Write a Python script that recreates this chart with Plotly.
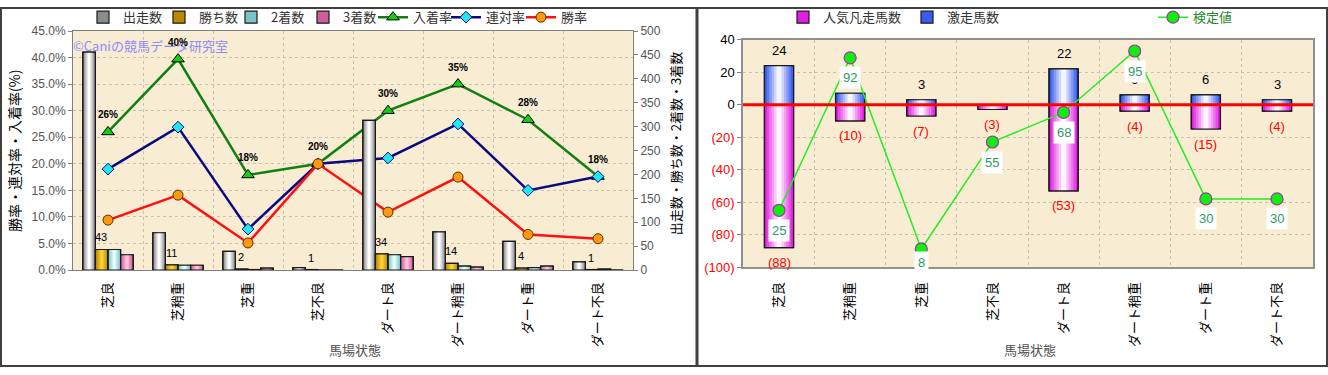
import plotly.graph_objects as go

# ---------------- data ----------------
categories = ["芝良", "芝稍重", "芝重", "芝不良", "ダート良", "ダート稍重", "ダート重", "ダート不良"]

runs = [456, 78, 39, 5, 313, 80, 60, 17]          # 出走数
wins = [43, 11, 2, 1, 34, 14, 4, 1]               # 勝ち数
seconds = [43, 10, 1, 0, 32, 8, 5, 2]             # 2着数
thirds = [32, 10, 4, 0, 28, 6, 8, 0]              # 3着数
place_rate = [26.0, 39.7, 17.9, 20.0, 30.0, 35.0, 28.3, 17.6]      # 入着率
quinella_rate = [19.0, 26.9, 7.7, 20.0, 21.1, 27.5, 15.0, 17.6]   # 連対率
win_rate = [9.4, 14.1, 5.1, 20.0, 10.9, 17.5, 6.7, 5.9]           # 勝率
place_labels = ["26%", "40%", "18%", "20%", "30%", "35%", "28%", "18%"]

flop_counts = [-88, -10, -7, -3, -53, -4, -15, -4]   # 人気凡走馬数
surge_counts = [24, 7, 3, 0, 22, 6, 6, 3]            # 激走馬数
test_values = [25, 92, 8, 55, 68, 95, 30, 30]        # 検定値

rate_ticks = [0, 5, 10, 15, 20, 25, 30, 35, 40, 45]
rate_ticktext = ["0.0%", "5.0%", "10.0%", "15.0%", "20.0%", "25.0%", "30.0%", "35.0%", "40.0%", "45.0%"]
count_ticks = [0, 50, 100, 150, 200, 250, 300, 350, 400, 450, 500]
diff_ticks = [-100, -80, -60, -40, -20, 0, 20, 40]
diff_ticktext = ["(100)", "(80)", "(60)", "(40)", "(20)", "0", "20", "40"]

# ---------------- helpers ----------------
W, H = 1328, 375
JP = "Noto Sans CJK JP"
NUM = "Liberation Sans"


def px_x(p):
    return p / W


def px_y(p):
    return 1 - p / H


def mix(c1, c2, t):
    a = [int(c1[i:i + 2], 16) for i in (1, 3, 5)]
    b = [int(c2[i:i + 2], 16) for i in (1, 3, 5)]
    return "rgb(%d,%d,%d)" % tuple(round(a[k] + (b[k] - a[k]) * t) for k in range(3))


def grad_bar(fig, y, xa, ya, offset, width, edge, center, name, legend, n=6):
    for i in range(n):
        f = i / n
        fig.add_trace(go.Bar(
            x=categories, y=y, xaxis=xa, yaxis=ya,
            offset=offset + width * f / 2, width=width * (1 - f),
            marker=dict(color=mix(edge, center, i / (n - 1)),
                        line=dict(width=1.2 if i == 0 else 0, color="#1a1a1a")),
            name=name, legend=legend, showlegend=(i == 0), hoverinfo="skip"))
    fig.add_trace(go.Bar(
        x=categories, y=y, xaxis=xa, yaxis=ya, offset=offset, width=width,
        marker=dict(color="rgba(0,0,0,0)", line=dict(width=1.2, color="#1a1a1a")),
        showlegend=False, hoverinfo="skip"))


fig = go.Figure()

# ---------------- left panel bars ----------------
bw = 0.18
grad_bar(fig, runs, "x", "y2", -0.36, bw, "#8c8c8c", "#ffffff", "出走数", "legend")
grad_bar(fig, wins, "x", "y2", -0.18, bw, "#b88a00", "#ffd23a", "勝ち数", "legend2")
grad_bar(fig, seconds, "x", "y2", 0.0, bw, "#7cc4c4", "#e8ffff", "2着数", "legend3")
grad_bar(fig, thirds, "x", "y2", 0.18, bw, "#cf5f9c", "#ffc0e0", "3着数", "legend4")

# ---------------- left panel lines ----------------
fig.add_trace(go.Scatter(x=categories, y=place_rate, xaxis="x", yaxis="y", name="入着率",
                         mode="lines+markers", legend="legend5",
                         line=dict(color="#118011", width=2.5),
                         marker=dict(symbol="triangle-up", size=11, color="#10d010",
                                     line=dict(color="#000000", width=1))))
fig.add_trace(go.Scatter(x=categories, y=quinella_rate, xaxis="x", yaxis="y", name="連対率",
                         mode="lines+markers", legend="legend6",
                         line=dict(color="#0a0a80", width=2.5),
                         marker=dict(symbol="diamond", size=9, color="#20e8f0",
                                     line=dict(color="#0a0a80", width=1))))
fig.add_trace(go.Scatter(x=categories, y=win_rate, xaxis="x", yaxis="y", name="勝率",
                         mode="lines+markers", legend="legend7",
                         line=dict(color="#ff1010", width=2.5),
                         marker=dict(symbol="circle", size=10, color="#ff9a10",
                                     line=dict(color="#5a3000", width=1))))

# ---------------- right panel bars ----------------
grad_bar(fig, flop_counts, "x2", "y3", -0.205, 0.41, "#e21ee2", "#fff4ff", "人気凡走馬数", "legend8")
grad_bar(fig, surge_counts, "x2", "y3", -0.205, 0.41, "#3a5cf0", "#f4f6ff", "激走馬数", "legend9")

fig.add_trace(go.Scatter(x=categories, y=test_values, xaxis="x2", yaxis="y4", name="検定値",
                         mode="lines+markers", legend="legend10",
                         line=dict(color="#22ee22", width=1.5),
                         marker=dict(symbol="circle", size=12, color="#10ee10",
                                     line=dict(color="#9a3a9a", width=1.2))))

annotations = []
# watermark
annotations.append(dict(text="©Caniの競馬データ研究室", xref="paper", yref="paper",
                        x=px_x(71), y=px_y(40), xanchor="left", yanchor="middle",
                        showarrow=False, font=dict(family=JP, size=13, color="#8a8cf8")))
# place-rate labels
for c, v, t in zip(categories, place_rate, place_labels):
    annotations.append(dict(text="<b>%s</b>" % t, x=c, y=v, xref="x", yref="y", yshift=17,
                            showarrow=False, font=dict(family=NUM, size=10, color="#000000")))
# win-count labels
for c, v in zip(categories, wins):
    annotations.append(dict(text=str(v), x=c, y=v, xref="x", yref="y2", yshift=12, xshift=-7,
                            showarrow=False, font=dict(family=NUM, size=11, color="#000000")))
# surge labels
for c, v in zip(categories, surge_counts):
    if v > 0:
        annotations.append(dict(text=str(v), x=c, y=v, xref="x2", yref="y3", yshift=15,
                                showarrow=False, font=dict(family=NUM, size=13, color="#000000")))
# flop labels
for c, v in zip(categories, flop_counts):
    annotations.append(dict(text="(%d)" % abs(v), x=c, y=v, xref="x2", yref="y3", yshift=-15,
                            showarrow=False, font=dict(family=NUM, size=13, color="#ff0000")))
# test-value labels
for c, v in zip(categories, test_values):
    annotations.append(dict(text=str(v), x=c, y=v, xref="x2", yref="y4",
                            yshift=-20 if v > 15 else -14,
                            showarrow=False, bgcolor="#ffffff", borderpad=3,
                            font=dict(family=NUM, size=13, color="#2f9a6a")))
# axis titles
annotations.append(dict(text="勝率・連対率・入着率(%)", xref="paper", yref="paper",
                        x=px_x(14), y=px_y(150), xanchor="center", yanchor="middle",
                        textangle=-90, showarrow=False,
                        font=dict(family=JP, size=14, color="#000000")))
annotations.append(dict(text="出走数・勝ち数・2着数・3着数", xref="paper", yref="paper",
                        x=px_x(675), y=px_y(143), xanchor="center", yanchor="middle",
                        textangle=-90, showarrow=False,
                        font=dict(family=JP, size=13, color="#000000")))
annotations.append(dict(text="馬場状態", xref="paper", yref="paper",
                        x=px_x(355), y=px_y(357), xanchor="center", yanchor="middle", showarrow=False,
                        font=dict(family=JP, size=13, color="#505050")))
annotations.append(dict(text="馬場状態", xref="paper", yref="paper",
                        x=px_x(1030), y=px_y(357), xanchor="center", yanchor="middle", showarrow=False,
                        font=dict(family=JP, size=13, color="#505050")))

shapes = [
    dict(type="rect", xref="paper", yref="paper", x0=px_x(1), x1=px_x(1327), y0=px_y(374), y1=px_y(1),
         line=dict(color="#404040", width=2), layer="above"),
    dict(type="line", xref="paper", yref="paper", x0=px_x(697), x1=px_x(697), y0=0, y1=1,
         line=dict(color="#404040", width=3), layer="above"),
    dict(type="line", xref="x2 domain", yref="y3", x0=0, x1=1, y0=0, y1=0,
         line=dict(color="#ff0000", width=3), layer="above"),
]

grid = dict(showgrid=True, gridcolor="#c9c0b0", griddash="dot", gridwidth=1)
bg = "#f8ecd2"

left_dom_x = [px_x(73), px_x(633)]
left_dom_y = [px_y(274), px_y(25)]
right_dom_x = [px_x(743), px_x(1313)]
right_dom_y = [px_y(271), px_y(34)]

# one legend box per entry, placed where the reference shows it
legend_x = {"legend": 83, "legend2": 159, "legend3": 231, "legend4": 303, "legend5": 373,
            "legend6": 446, "legend7": 521, "legend8": 783, "legend9": 907, "legend10": 1153}
legend_layout = {}
for key, xpos in legend_x.items():
    legend_layout[key] = dict(orientation="h", x=px_x(xpos), y=px_y(-5), xanchor="left", yanchor="top",
                              bgcolor="rgba(0,0,0,0)",
                              font=dict(family=JP, size=13,
                                        color="#1f8a2a" if key == "legend10" else "#333333"))

fig.update_layout(
    width=W, height=H, margin=dict(l=0, r=0, t=0, b=0),
    paper_bgcolor="#ffffff", plot_bgcolor=bg,
    barmode="overlay", showlegend=True,
    font=dict(family=JP, size=12, color="#333333"),
    xaxis=dict(domain=left_dom_x, anchor="y", type="category", tickson="boundaries",
               tickangle=-90, ticks="", ticklabelstandoff=6,
               tickfont=dict(family=JP, size=13, color="#000000"),
               showline=True, linecolor="#808080", mirror=True, **grid),
    yaxis=dict(domain=left_dom_y, anchor="x", range=[0, 45], tickvals=rate_ticks,
               ticktext=rate_ticktext, ticks="outside", ticklen=4, tickcolor="#808080",
               tickfont=dict(family=NUM, size=12, color="#555555"),
               showline=True, linecolor="#808080", mirror=True, zeroline=False, **grid),
    yaxis2=dict(domain=left_dom_y, anchor="x", overlaying="y", side="right", range=[0, 500],
                tickvals=count_ticks, ticks="outside", ticklen=4, tickcolor="#808080",
                tickfont=dict(family=NUM, size=12, color="#555555"),
                showgrid=False, zeroline=False, showline=False),
    xaxis2=dict(domain=right_dom_x, anchor="y3", type="category", tickson="boundaries",
                tickangle=-90, ticks="", ticklabelstandoff=8,
                tickfont=dict(family=JP, size=13, color="#000000"),
                showline=True, linecolor="#909090", linewidth=1.5, mirror=True, **grid),
    yaxis3=dict(domain=right_dom_y, anchor="x2", range=[-100, 40], tickvals=diff_ticks,
                ticktext=[('<span style="color:#ff0000">%s</span>' % t) if v < 0 else t
                          for v, t in zip(diff_ticks, diff_ticktext)],
                ticks="outside", ticklen=4, tickcolor="#808080",
                tickfont=dict(family=NUM, size=13, color="#000000"),
                showline=True, linecolor="#909090", linewidth=1.5, mirror=True,
                zeroline=False, **grid),
    yaxis4=dict(domain=right_dom_y, anchor="x2", overlaying="y3", range=[0, 100], visible=False),
    annotations=annotations, shapes=shapes,
    **legend_layout,
)

fig.write_html("out.html", config={"displayModeBar": False},
               post_script="document.body.style.margin='0px';")
